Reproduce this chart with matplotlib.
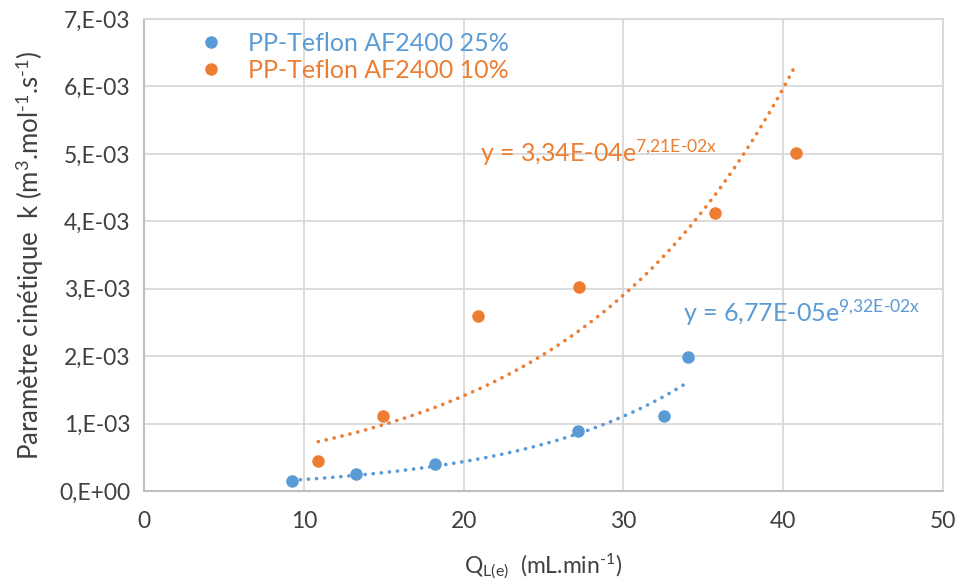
import numpy as np
import matplotlib
matplotlib.use('Agg')
import matplotlib.pyplot as plt
from matplotlib.ticker import FixedLocator, FuncFormatter

plt.rcParams['font.family'] = ['Lato', 'DejaVu Sans']
plt.rcParams['mathtext.fontset'] = 'custom'
plt.rcParams['mathtext.rm'] = 'Lato'
plt.rcParams['mathtext.it'] = 'Lato:italic'
plt.rcParams['mathtext.bf'] = 'Lato:bold'

# données
q_25 = [9.27, 13.29, 18.23, 27.17, 32.56, 34.06]
k_25 = [0.153e-3, 0.252e-3, 0.400e-3, 0.895e-3, 1.113e-3, 1.99e-3]
q_10 = [10.9, 14.96, 20.92, 27.19, 35.7, 40.8]
k_10 = [0.44e-3, 1.11e-3, 2.60e-3, 3.02e-3, 4.13e-3, 5.01e-3]

# courbes de tendance exponentielles (y = a*exp(b*x))
a_25, b_25 = 6.77e-5, 9.32e-2
a_10, b_10 = 3.34e-4, 7.21e-2

labels = ["PP-Teflon AF2400 25%", "PP-Teflon AF2400 10%"]
blue = '#5B9BD5'
orange = '#ED7D31'
txt = '#404040'

fig = plt.figure(figsize=(9.62, 5.86), dpi=100)
ax = fig.add_axes([0.1497, 0.162, 0.8306, 0.8056])

ax.plot(q_25, k_25, 'o', color=blue, ms=8, label=labels[0], zorder=3)
ax.plot(q_10, k_10, 'o', color=orange, ms=8, label=labels[1], zorder=3)

x25 = np.linspace(min(q_25), max(q_25), 200)
x10 = np.linspace(min(q_10), max(q_10), 200)
ax.plot(x25, a_25 * np.exp(b_25 * x25), color=blue, lw=2.6,
        linestyle=(0, (0.05, 2.2)), dash_capstyle='round', zorder=2)
ax.plot(x10, a_10 * np.exp(b_10 * x10), color=orange, lw=2.6,
        linestyle=(0, (0.05, 2.2)), dash_capstyle='round', zorder=2)

ax.text(21.0, 4.88e-3, r'y = 3,34E-04e$^{\text{7,21E-02x}}$', color=orange,
        fontsize=18)
ax.text(33.7, 2.51e-3, r'y = 6,77E-05e$^{\text{9,32E-02x}}$', color=blue,
        fontsize=18)

ax.set_xlim(0, 50)
ax.set_ylim(0, 7e-3)
ax.xaxis.set_major_locator(FixedLocator([0, 10, 20, 30, 40, 50]))
ax.yaxis.set_major_locator(FixedLocator(np.arange(0, 8) * 1e-3))

def fmt(v, pos):
    if v == 0:
        return '0,E+00'
    return '%d,E-03' % round(v * 1e3)

ax.yaxis.set_major_formatter(FuncFormatter(fmt))
ax.tick_params(length=0, labelsize=16.5, colors=txt, pad=10)
ax.tick_params(axis='x', pad=14)
ax.grid(color='#D9D9D9', lw=1.3)
ax.set_axisbelow(True)
for s in ['top', 'right']:
    ax.spines[s].set_color('#D9D9D9')
    ax.spines[s].set_linewidth(1.3)
for s in ['left', 'bottom']:
    ax.spines[s].set_color('#BFBFBF')
    ax.spines[s].set_linewidth(1.5)

ax.set_xlabel(r'Q$_{\text{L(e)}}$  (mL.min$^{\text{-1}}$)', fontsize=16.5,
              color=txt, labelpad=14)
ax.set_ylabel(r'Paramètre cinétique  k (m$^{\text{3}}$.mol$^{\text{-1}}$.s$^{\text{-1}}$)',
              fontsize=18.5, color=txt, labelpad=9)

leg = ax.legend(loc='upper left', bbox_to_anchor=(0.04, 1.02), frameon=False,
                fontsize=18, handletextpad=1.0, labelspacing=0.15,
                handlelength=1.0)
for t, c in zip(leg.get_texts(), [blue, orange]):
    t.set_color(c)

fig.savefig('out.png', dpi=100)
